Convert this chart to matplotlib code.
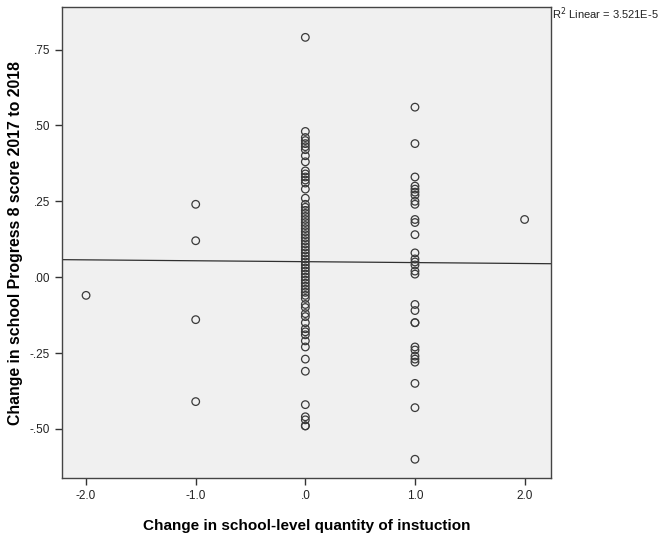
import numpy as np
import matplotlib
matplotlib.use('Agg')
import matplotlib.pyplot as plt
from matplotlib.ticker import FuncFormatter

plt.rcParams['font.family'] = ['Liberation Sans', 'DejaVu Sans']

# Data
x_neg2 = [-0.06]
x_neg1 = [0.24, 0.12, -0.14, -0.41]
x_zero = [0.79, 0.48, 0.46, 0.45, 0.44, 0.43, 0.42, 0.40, 0.38, 0.35, 0.34, 0.33,
          0.32, 0.31, 0.29, 0.26, 0.24, 0.23, 0.22, 0.21, 0.20, 0.19, 0.18, 0.17,
          0.16, 0.15, 0.14, 0.13, 0.12, 0.11, 0.10, 0.09, 0.08, 0.07, 0.06, 0.05,
          0.04, 0.03, 0.02, 0.01, 0.00, -0.01, -0.02, -0.03, -0.04, -0.05, -0.06,
          -0.07, -0.09, -0.10, -0.12, -0.13, -0.15, -0.17, -0.18, -0.19, -0.21,
          -0.23, -0.27, -0.31, -0.42, -0.46, -0.47, -0.49, -0.49]
x_one = [0.56, 0.44, 0.33, 0.30, 0.29, 0.28, 0.27, 0.25, 0.24, 0.19, 0.18, 0.14,
         0.08, 0.06, 0.05, 0.04, 0.02, 0.01, -0.09, -0.11, -0.15, -0.15, -0.23,
         -0.24, -0.26, -0.27, -0.28, -0.35, -0.43, -0.60]
x_two = [0.19]

groups = {-2.0: x_neg2, -1.0: x_neg1, 0.0: x_zero, 1.0: x_one, 2.0: x_two}
xs = np.concatenate([[k] * len(v) for k, v in groups.items()])
ys = np.concatenate([v for v in groups.values()])

# fit line
fit_intercept = 0.051
fit_slope = -0.003
r2_text = 'R$^2$ Linear = 3.521E-5'

fig = plt.figure(figsize=(6.59, 5.39), dpi=100)
ax = fig.add_axes([0.094, 0.113, 0.742, 0.874])
ax.set_facecolor('#f0f0f0')

ax.scatter(xs, ys, s=30, facecolors='none', edgecolors='#3a3a3a', linewidths=0.9, zorder=3)

xlim = (-2.22, 2.24)
lx = np.array(xlim)
ax.plot(lx, fit_intercept + fit_slope * lx, color='#303030', lw=0.9, zorder=2)

ax.set_xlim(*xlim)
ax.set_ylim(-0.662, 0.89)
ax.set_xticks([-2, -1, 0, 1, 2])
ax.set_yticks([-0.5, -0.25, 0, 0.25, 0.5, 0.75])

def fmt(v, dec):
    s = f'{v:.{dec}f}'
    return s.replace('0.', '.', 1) if abs(v) < 1 else s

ax.xaxis.set_major_formatter(FuncFormatter(lambda v, p: fmt(v, 1)))
ax.yaxis.set_major_formatter(FuncFormatter(lambda v, p: fmt(v, 2)))
ax.tick_params(direction='out', length=5, width=1, color='#333333', labelsize=8.5,
               labelcolor='#222222')

for sp in ax.spines.values():
    sp.set_color('#444444')
    sp.set_linewidth(1)

ax.set_xlabel('Change in school-level quantity of instuction', fontsize=11,
              fontweight='bold', labelpad=12)
ax.set_ylabel('Change in school Progress 8 score 2017 to 2018', fontsize=11.4,
              fontweight='bold')
ax.yaxis.set_label_coords(-0.08, 0.5)

fig.text(0.838, 0.975, r2_text, fontsize=8, color='#222222', va='center', ha='left')

fig.savefig('out.png', dpi=100)
